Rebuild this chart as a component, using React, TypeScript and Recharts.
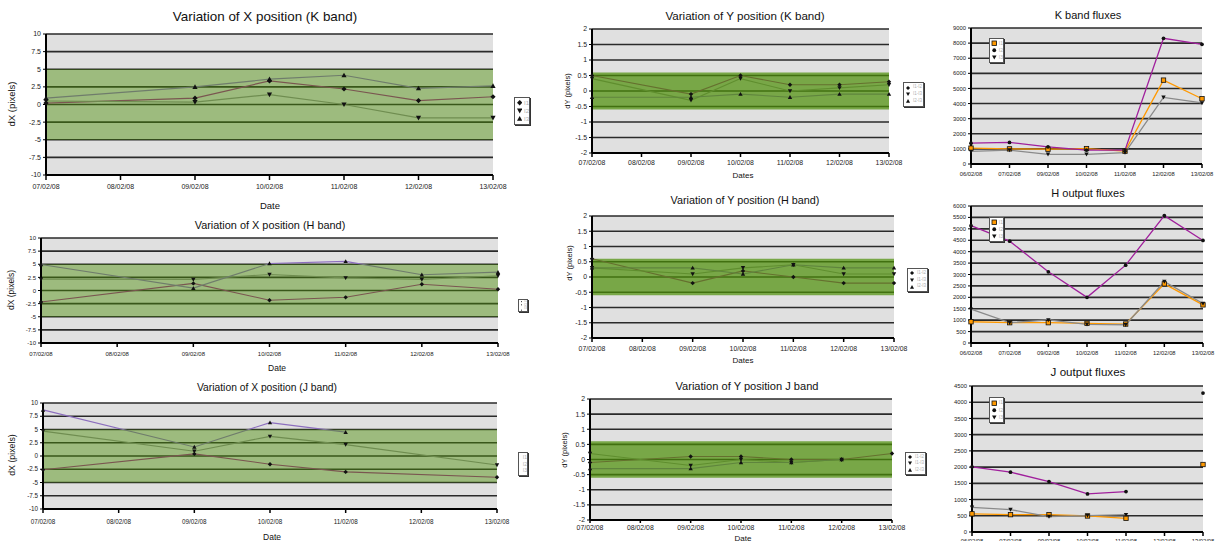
import { CartesianGrid, Line, LineChart, ReferenceArea, XAxis, YAxis } from 'recharts';

const FONT = '"Liberation Sans", Arial, Helvetica, sans-serif';

const POSITION_DATES = ['07/02/08', '08/02/08', '09/02/08', '10/02/08', '11/02/08', '12/02/08', '13/02/08'];
const FLUX_DATES = ['06/02/08', '07/02/08', '09/02/08', '10/02/08', '11/02/08', '12/02/08', '13/02/08'];

const DX_TICKS = [-10, -7.5, -5, -2.5, 0, 2.5, 5, 7.5, 10];
const DY_TICKS = [-2, -1.5, -1, -0.5, 0, 0.5, 1, 1.5, 2];
const K_FLUX_TICKS = [0, 1000, 2000, 3000, 4000, 5000, 6000, 7000, 8000, 9000];
const H_FLUX_TICKS = [0, 500, 1000, 1500, 2000, 2500, 3000, 3500, 4000, 4500, 5000, 5500, 6000];
const J_FLUX_TICKS = [0, 500, 1000, 1500, 2000, 2500, 3000, 3500, 4000, 4500];

// tolerance bands
const DX_LIMITS = [-5, 5];
const DY_LIMITS = [-0.6, 0.6];

const IMAGE_NAMES = ['I1', 'I2', 'I3'];
const PAIR_NAMES = ['I1-I2', 'I1-I3', 'I2-I3'];

// dX, K band
const DX_K_I1 = [0.2, null, 0.9, 3.35, 2.2, 0.55, 1.1];
const DX_K_I2 = [0.5, null, 0.35, 1.4, 0.0, -1.9, -1.9];
const DX_K_I3 = [0.9, null, 2.5, 3.6, 4.15, 2.3, 2.65];

// dX, H band
const DX_H_I1 = [-2.2, null, 1.35, -1.85, -1.3, 1.2, 0.25];
const DX_H_I2 = [2.15, null, 2.1, 3.05, 2.4, 2.1, 2.8];
const DX_H_I3 = [4.95, null, 0.45, 5.15, 5.55, 3.0, 3.5];

// dX, J band
const DX_J_I1 = [-2.6, null, 0.4, -1.55, -3.0, null, -4.0];
const DX_J_I2 = [4.7, null, 0.9, 3.7, 2.15, null, -1.7];
const DX_J_I3 = [8.7, null, 1.7, 6.3, 4.5, null, null];

// dY, K band
const DY_K_12 = [0.5, null, -0.1, 0.5, 0.2, 0.2, 0.3];
const DY_K_13 = [0.4, null, -0.3, 0.4, 0.0, 0.1, 0.2];
const DY_K_23 = [-0.2, null, -0.2, -0.1, -0.2, -0.1, -0.1];

// dY, H band
const DY_H_12 = [0.6, null, -0.2, 0.2, 0.0, -0.2, -0.2];
const DY_H_13 = [0.3, null, 0.1, 0.3, 0.4, 0.1, 0.1];
const DY_H_23 = [0.3, null, 0.3, 0.1, 0.4, 0.3, 0.3];

// dY, J band
const DY_J_12 = [-0.1, null, 0.1, 0.1, 0.0, 0.0, 0.2];
const DY_J_13 = [0.2, null, -0.2, 0.0, -0.1, 0.0, null];
const DY_J_23 = [-0.3, null, -0.3, -0.1, -0.1, 0.0, null];

// output fluxes
const K_FLUX_I1 = [1050, 1000, 980, 1020, 850, 5550, 4320];
const K_FLUX_I2 = [1380, 1430, 1140, 920, 920, 8320, 7920];
const K_FLUX_I3 = [830, 920, 640, 640, 750, 4410, 4040];

const H_FLUX_I1 = [930, 890, 890, 860, 830, 2590, 1670];
const H_FLUX_I2 = [5140, 4460, 3120, 2000, 3410, 5580, 4490];
const H_FLUX_I3 = [1480, 890, 1010, 820, 800, 2690, 1730];

const J_FLUX_I1 = [560, 535, 535, 494, 422, null, 2080];
const J_FLUX_I2 = [2008, 1843, 1555, 1174, 1246, null, 4284];
const J_FLUX_I3 = [762, 690, 474, 505, 535, null, null];

const PLOT_BG = '#e0e0e0';
const GRID = '#2a2a2a';
const BAND_GREEN = '#4b8e06';

const AXIS_W = 40;
const PAD = 8;
const PAD_RIGHT = 26;
const X_AXIS_H = 30;

type Shape = 'diamond' | 'down' | 'up' | 'square' | 'circle';
type Series = { name: string; values: (number | null)[]; color: string; shape: Shape; fill: string };
type Frame = { left: number; right: number; top: number; bottom: number };
type Caption = { text: string; x: number; y: number; size: number };
type Legend = { x: number; y: number; w: number; h: number; size: number };

const positionSeries = (names: string[], a: (number | null)[], b: (number | null)[], c: (number | null)[]): Series[] => [
  { name: names[0], values: a, color: '#a0288c', shape: 'diamond', fill: '#111' },
  { name: names[1], values: b, color: '#8c8c8c', shape: 'down', fill: '#111' },
  { name: names[2], values: c, color: '#8c6ebe', shape: 'up', fill: '#111' },
];

const fluxSeries = (a: (number | null)[], b: (number | null)[], c: (number | null)[]): Series[] => [
  { name: IMAGE_NAMES[0], values: a, color: '#ff9900', shape: 'square', fill: '#ff9900' },
  { name: IMAGE_NAMES[1], values: b, color: '#a0209c', shape: 'circle', fill: '#111' },
  { name: IMAGE_NAMES[2], values: c, color: '#8a8a8a', shape: 'down', fill: '#111' },
];

function Marker({ shape, cx, cy, s, fill }: { shape: Shape; cx: number; cy: number; s: number; fill: string }) {
  if (shape === 'circle') return <circle cx={cx} cy={cy} r={s * 0.85} fill={fill} />;
  if (shape === 'square')
    return <rect x={cx - s} y={cy - s} width={s * 2} height={s * 2} fill={fill} stroke="#111" strokeWidth={0.8} />;
  let pts = '';
  if (shape === 'diamond') pts = `${cx},${cy - s} ${cx + s},${cy} ${cx},${cy + s} ${cx - s},${cy}`;
  if (shape === 'down') pts = `${cx - s},${cy - s * 0.8} ${cx + s},${cy - s * 0.8} ${cx},${cy + s}`;
  if (shape === 'up') pts = `${cx - s},${cy + s * 0.8} ${cx + s},${cy + s * 0.8} ${cx},${cy - s}`;
  return <polygon points={pts} fill={fill} />;
}

const dotFor = (s: Series, size: number) => (p: any) => {
  const { cx, cy, index, value } = p;
  if (cx == null || cy == null || value == null || Number.isNaN(cy)) return <g key={`e${index}`} />;
  return <Marker key={`m${index}`} shape={s.shape} cx={cx} cy={cy} s={size} fill={s.fill} />;
};

function Label({ text, x, y, size, rotate }: Caption & { rotate?: boolean }) {
  return (
    <div
      style={{
        position: 'absolute',
        left: x,
        top: y,
        transform: `translate(-50%, -50%)${rotate ? ' rotate(-90deg)' : ''}`,
        fontSize: size,
        fontFamily: FONT,
        color: '#111',
        whiteSpace: 'nowrap',
        lineHeight: 1,
      }}
    >
      {text}
    </div>
  );
}

function LegendBox({ legend, series }: { legend: Legend; series: Series[] }) {
  const m = legend.size * 0.45;
  return (
    <div
      style={{
        position: 'absolute',
        left: legend.x,
        top: legend.y,
        width: legend.w,
        height: legend.h,
        boxSizing: 'border-box',
        border: '1px solid #555',
        boxShadow: '1px 1px 0 #333',
        background: '#fff',
        display: 'flex',
        flexDirection: 'column',
        justifyContent: 'space-evenly',
        paddingLeft: 1,
        overflow: 'hidden',
      }}
    >
      {series.map((s) => (
        <div key={s.name} style={{ display: 'flex', alignItems: 'center', gap: 2, height: legend.size }}>
          <svg width={m * 2 + 2} height={m * 2 + 2}>
            <Marker shape={s.shape} cx={m + 1} cy={m + 1} s={m} fill={s.fill} />
          </svg>
          <span style={{ fontSize: legend.size, fontFamily: FONT, color: '#b0b0b0', lineHeight: 1 }}>{s.name}</span>
        </div>
      ))}
    </div>
  );
}

type PanelProps = {
  dates: string[];
  series: Series[];
  ticks: number[];
  frame: Frame;
  band?: number[];
  bandOpacity?: number;
  connect: boolean;
  tickFont: number;
  xTickLen: number;
  xTickGap: number;
  lineWidth: number;
  markerSize: number;
  title: Caption;
  xTitle?: Caption;
  yTitle?: Caption;
  legend: Legend;
};

function Panel(p: PanelProps) {
  const { frame } = p;
  const width = frame.right - frame.left + AXIS_W + PAD_RIGHT;
  const height = frame.bottom - frame.top + PAD + X_AXIS_H;
  const data = p.dates.map((date, i) => {
    const row: Record<string, string | number | null> = { date };
    p.series.forEach((s, j) => {
      row[`s${j}`] = s.values[i];
    });
    return row;
  });
  const tick = { fontSize: p.tickFont, fill: '#1a1a1a', fontFamily: FONT };

  return (
    <>
      <div style={{ position: 'absolute', left: frame.left - AXIS_W, top: frame.top - PAD }}>
        <LineChart width={width} height={height} data={data} margin={{ top: PAD, right: PAD_RIGHT, left: 0, bottom: 0 }}>
          <CartesianGrid vertical={false} stroke={GRID} strokeWidth={1.6} fill={PLOT_BG} fillOpacity={1} />
          <XAxis
            dataKey="date"
            scale="point"
            interval={0}
            height={X_AXIS_H}
            tick={tick}
            tickSize={p.xTickLen}
            tickMargin={p.xTickGap}
            axisLine={{ stroke: '#000', strokeWidth: 2 }}
            tickLine={{ stroke: '#000', strokeWidth: 1.5 }}
          />
          <YAxis
            type="number"
            domain={[p.ticks[0], p.ticks[p.ticks.length - 1]]}
            ticks={p.ticks}
            interval={0}
            width={AXIS_W}
            tick={tick}
            tickSize={3}
            tickMargin={2}
            axisLine={{ stroke: '#000', strokeWidth: 2 }}
            tickLine={{ stroke: '#000' }}
          />
          {p.series.map((s, j) => (
            <Line
              key={s.name}
              dataKey={`s${j}`}
              type="linear"
              stroke={s.color}
              strokeWidth={p.lineWidth}
              connectNulls={p.connect}
              dot={dotFor(s, p.markerSize)}
              activeDot={false}
              isAnimationActive={false}
            />
          ))}
          {p.band && (
            <ReferenceArea
              y1={p.band[0]}
              y2={p.band[1]}
              fill={BAND_GREEN}
              fillOpacity={p.bandOpacity}
              stroke="none"
              zIndex={450}
            />
          )}
        </LineChart>
      </div>
      <Label {...p.title} />
      {p.xTitle && <Label {...p.xTitle} />}
      {p.yTitle && <Label {...p.yTitle} rotate />}
      <LegendBox legend={p.legend} series={p.series} />
    </>
  );
}

export default function App() {
  return (
    <div
      style={{
        position: 'absolute',
        left: 0,
        top: 0,
        width: 1217,
        height: 541,
        overflow: 'hidden',
        background: '#fff',
      }}
    >
      <Panel
        dates={POSITION_DATES}
        series={positionSeries(IMAGE_NAMES, DX_K_I1, DX_K_I2, DX_K_I3)}
        ticks={DX_TICKS}
        frame={{ left: 46, right: 493, top: 34, bottom: 175 }}
        band={DX_LIMITS}
        bandOpacity={0.45}
        connect
        tickFont={7}
        xTickLen={5}
        xTickGap={4.5}
        lineWidth={1.2}
        markerSize={2.6}
        title={{ text: 'Variation of X position (K band)', x: 265, y: 17, size: 13.4 }}
        xTitle={{ text: 'Date', x: 270, y: 206, size: 9.5 }}
        yTitle={{ text: 'dX (pixels)', x: 12, y: 104, size: 9.5 }}
        legend={{ x: 514, y: 97, w: 16, h: 28, size: 6 }}
      />
      <Panel
        dates={POSITION_DATES}
        series={positionSeries(IMAGE_NAMES, DX_H_I1, DX_H_I2, DX_H_I3)}
        ticks={DX_TICKS}
        frame={{ left: 41, right: 498, top: 238, bottom: 343 }}
        band={DX_LIMITS}
        bandOpacity={0.45}
        connect
        tickFont={6}
        xTickLen={4}
        xTickGap={4.8}
        lineWidth={1.1}
        markerSize={2.2}
        title={{ text: 'Variation of X position (H band)', x: 270, y: 225, size: 10.9 }}
        yTitle={{ text: 'dX (pixels)', x: 11, y: 290, size: 8.5 }}
        legend={{ x: 518, y: 299, w: 10, h: 13, size: 3.5 }}
      />
      <Label text="Date" x={277} y={368} size={8.5} />
      <Panel
        dates={POSITION_DATES}
        series={positionSeries(IMAGE_NAMES, DX_J_I1, DX_J_I2, DX_J_I3)}
        ticks={DX_TICKS}
        frame={{ left: 43, right: 497, top: 403, bottom: 509 }}
        band={DX_LIMITS}
        bandOpacity={0.45}
        connect
        tickFont={6.3}
        xTickLen={4}
        xTickGap={6.5}
        lineWidth={1.1}
        markerSize={2.2}
        title={{ text: 'Variation of X position (J band)', x: 267, y: 388, size: 10.3 }}
        xTitle={{ text: 'Date', x: 272, y: 537, size: 8.5 }}
        yTitle={{ text: 'dX (pixels)', x: 12, y: 455, size: 8.8 }}
        legend={{ x: 518, y: 452, w: 10, h: 24, size: 5 }}
      />
      <Panel
        dates={POSITION_DATES}
        series={positionSeries(PAIR_NAMES, DY_K_12, DY_K_13, DY_K_23)}
        ticks={DY_TICKS}
        frame={{ left: 592, right: 889, top: 29, bottom: 153 }}
        band={DY_LIMITS}
        bandOpacity={0.7}
        connect
        tickFont={6.9}
        xTickLen={4}
        xTickGap={3.5}
        lineWidth={1.1}
        markerSize={2.2}
        title={{ text: 'Variation of Y position (K band)', x: 745, y: 16, size: 11.6 }}
        xTitle={{ text: 'Dates', x: 743, y: 176, size: 8 }}
        yTitle={{ text: 'dY (pixels)', x: 568, y: 91, size: 7.5 }}
        legend={{ x: 903, y: 82, w: 21, h: 25, size: 4.5 }}
      />
      <Panel
        dates={POSITION_DATES}
        series={positionSeries(PAIR_NAMES, DY_H_12, DY_H_13, DY_H_23)}
        ticks={DY_TICKS}
        frame={{ left: 592, right: 894, top: 216, bottom: 338 }}
        band={DY_LIMITS}
        bandOpacity={0.7}
        connect
        tickFont={6.9}
        xTickLen={4}
        xTickGap={3.7}
        lineWidth={1.1}
        markerSize={2.2}
        title={{ text: 'Variation of Y position (H band)', x: 745, y: 200, size: 10.8 }}
        xTitle={{ text: 'Dates', x: 743, y: 361, size: 8 }}
        yTitle={{ text: 'dY (pixels)', x: 570, y: 263, size: 7.5 }}
        legend={{ x: 907, y: 268, w: 21, h: 24, size: 4.5 }}
      />
      <Panel
        dates={POSITION_DATES}
        series={positionSeries(PAIR_NAMES, DY_J_12, DY_J_13, DY_J_23)}
        ticks={DY_TICKS}
        frame={{ left: 590, right: 892, top: 399, bottom: 520 }}
        band={DY_LIMITS}
        bandOpacity={0.7}
        connect
        tickFont={6.9}
        xTickLen={3}
        xTickGap={1.7}
        lineWidth={1.1}
        markerSize={2.2}
        title={{ text: 'Variation of Y position J band', x: 747, y: 387, size: 11.1 }}
        xTitle={{ text: 'Date', x: 743, y: 539, size: 8 }}
        yTitle={{ text: 'dY (pixels)', x: 565, y: 450, size: 7.5 }}
        legend={{ x: 905, y: 452, w: 21, h: 23, size: 4.5 }}
      />
      <Panel
        dates={FLUX_DATES}
        series={fluxSeries(K_FLUX_I1, K_FLUX_I2, K_FLUX_I3)}
        ticks={K_FLUX_TICKS}
        frame={{ left: 971, right: 1202, top: 28, bottom: 164 }}
        connect={false}
        tickFont={5.8}
        xTickLen={4}
        xTickGap={4}
        lineWidth={1.3}
        markerSize={2.2}
        title={{ text: 'K band fluxes', x: 1088, y: 15, size: 11 }}
        legend={{ x: 989, y: 38, w: 15, h: 25, size: 5 }}
      />
      <Panel
        dates={FLUX_DATES}
        series={fluxSeries(H_FLUX_I1, H_FLUX_I2, H_FLUX_I3)}
        ticks={H_FLUX_TICKS}
        frame={{ left: 971, right: 1203, top: 206, bottom: 343 }}
        connect={false}
        tickFont={5.8}
        xTickLen={4}
        xTickGap={4}
        lineWidth={1.3}
        markerSize={2.2}
        title={{ text: 'H output fluxes', x: 1088, y: 193, size: 11 }}
        legend={{ x: 989, y: 217, w: 15, h: 25, size: 5 }}
      />
      <Panel
        dates={FLUX_DATES}
        series={fluxSeries(J_FLUX_I1, J_FLUX_I2, J_FLUX_I3)}
        ticks={J_FLUX_TICKS}
        frame={{ left: 972, right: 1203, top: 386, bottom: 532 }}
        connect={false}
        tickFont={5.8}
        xTickLen={4}
        xTickGap={3}
        lineWidth={1.3}
        markerSize={2.2}
        title={{ text: 'J output fluxes', x: 1088, y: 372, size: 11.6 }}
        legend={{ x: 989, y: 397, w: 15, h: 26, size: 5 }}
      />
    </div>
  );
}
